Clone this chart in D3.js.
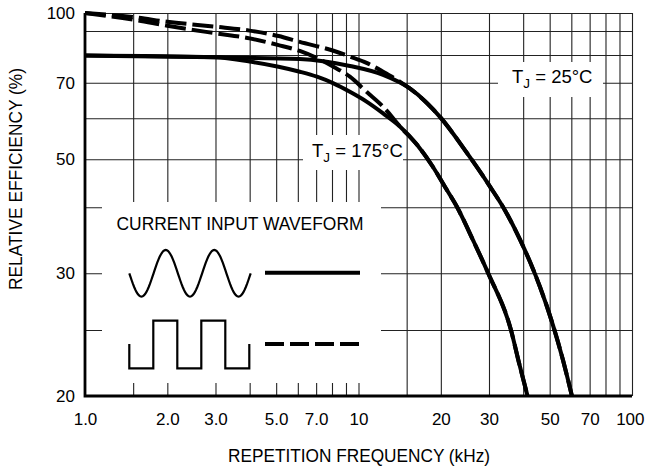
<!DOCTYPE html>
<html>
<head>
<meta charset="utf-8">
<script src="https://cdn.jsdelivr.net/npm/d3@7"></script>
<style>
  html, body { margin: 0; padding: 0; background: #fff; }
  svg { display: block; font-family: "Liberation Sans", Arial, Helvetica, sans-serif; }
</style>
</head>
<body>
<svg id="chart"></svg>
<script>
// curves: [frequency (kHz), relative efficiency (%)]
const sine25 = [[1, 79.8], [3.0, 79.1], [6.1, 78.5], [9.3, 75.9], [12.3, 72.7], [15.4, 68.3], [20.0, 60.1],
  [24.5, 52.1], [30.3, 44.0], [34.3, 39.5], [39.0, 34.7], [42.4, 31.5], [46.1, 28.7], [51.4, 25.4], [55.9, 22.6], [60.3, 20]];
const square25 = [[1, 100], [1.52, 97.5], [2.0, 95.0], [3.0, 92.3], [4.0, 90.2], [5.1, 87.8], [6.1, 85.3], [8.1, 81.7],
  [9.3, 79.4], [10.7, 77.0], [12.3, 73.8], [14.2, 70.3], [15.4, 68.3], [20.0, 60.1], [24.5, 52.1], [30.3, 44.0],
  [34.3, 39.5], [39.0, 34.7], [42.4, 31.5], [46.1, 28.7], [51.4, 25.4], [55.9, 22.6], [60.3, 20]];
const sine175 = [[1, 79.8], [3.0, 79.1], [4.0, 77.5], [5.1, 75.6], [6.1, 73.8], [7.05, 72.05], [8.1, 69.8], [9.3, 67.3],
  [10.7, 64.5], [12.3, 61.3], [14.2, 57.8], [16.4, 53.3], [18.7, 48.3], [20.7, 44.0], [22.9, 40.1], [26.2, 34.7],
  [29.8, 30.0], [36.1, 25.0], [38.6, 22.4], [41.5, 20]];
const square175 = [[1, 100], [1.52, 96.0], [2.0, 92.8], [3.0, 89.0], [4.0, 86.8], [5.1, 84.0], [6.1, 81.6], [8.1, 75.6],
  [9.3, 72.05], [10.7, 67.3], [12.3, 63.1], [14.2, 57.8], [16.4, 53.3], [18.7, 48.3], [20.7, 44.0], [22.9, 40.1],
  [26.2, 34.7], [29.8, 30.0], [36.1, 25.0], [38.6, 22.4], [41.5, 20]];

const xGrid = [1.5, 2, 3, 4, 5, 6, 7, 8, 9, 10, 15, 20, 30, 40, 50, 60, 70, 80, 90, 100];
const xLabels = [1, 2, 3, 5, 7, 10, 20, 30, 50, 70, 100];
const yGrid = [20, 25, 30, 40, 50, 60, 70, 80, 90, 100];
const yLabels = [20, 30, 50, 70, 100];

const width = 645, height = 470;
const margin = {top: 13, right: 13, bottom: 74, left: 85};
const innerW = width - margin.left - margin.right;
const innerH = height - margin.top - margin.bottom;
// the printed efficiency grid is not an even log grid, so pin the scale at every gridline
const yStops = [0, 0.1723, 0.3204, 0.4927, 0.618, 0.7251, 0.818, 0.8903, 0.953, 1];

const x = d3.scaleLog().domain([1, 100]).range([margin.left, width - margin.right]);
const y = d3.scaleLog().domain(yGrid).range(yStops.map(s => height - margin.bottom - s * innerH));

const svg = d3.select("#chart")
  .attr("width", width)
  .attr("height", height)
  .attr("viewBox", [0, 0, width, height]);

// grid
svg.append("g")
  .attr("transform", `translate(0,${height - margin.bottom})`)
  .call(d3.axisBottom(x).tickValues(xGrid).tickSize(-innerH).tickFormat(""))
  .call(g => g.select(".domain").remove())
  .call(g => g.selectAll("line").attr("stroke", "#222").attr("stroke-width", 1.1));

svg.append("g")
  .attr("transform", `translate(${margin.left},0)`)
  .call(d3.axisLeft(y).tickValues(yGrid).tickSize(-innerW).tickFormat(""))
  .call(g => g.select(".domain").remove())
  .call(g => g.selectAll("line").attr("stroke", "#222").attr("stroke-width", 1.1));

// white panels that blank the grid behind the legend and labels
const panels = [
  {x: 102, y: 202, w: 279, h: 181},
  {x: 303, y: 135, w: 100, h: 35},
  {x: 498, y: 62, w: 105, h: 35}
];
svg.append("g").selectAll("rect")
  .data(panels)
  .join("rect")
  .attr("x", d => d.x).attr("y", d => d.y)
  .attr("width", d => d.w).attr("height", d => d.h)
  .attr("fill", "#fff");

// tick labels
svg.append("g")
  .attr("transform", `translate(0,${height - margin.bottom})`)
  .call(d3.axisBottom(x).tickValues(xLabels).tickSize(0).tickPadding(17)
    .tickFormat(d => d < 10 ? d.toFixed(1) : d3.format("d")(d)))
  .call(g => g.select(".domain").remove())
  .call(g => g.selectAll("text").attr("font-size", 17).attr("font-family", null).attr("fill", "#000"))
  // last label sits against the page edge
  .call(g => g.select(".tick:last-of-type text").attr("text-anchor", "end").attr("x", 12));

svg.append("g")
  .attr("transform", `translate(${margin.left},0)`)
  .call(d3.axisLeft(y).tickValues(yLabels).tickSize(0).tickPadding(10).tickFormat(d3.format("d")))
  .call(g => g.select(".domain").remove())
  .call(g => g.selectAll("text").attr("font-size", 17).attr("font-family", null).attr("fill", "#000"));

// heavy left and bottom axis lines
svg.append("path")
  .attr("d", `M${margin.left},${margin.top}V${height - margin.bottom}H${width - margin.right}`)
  .attr("fill", "none")
  .attr("stroke", "#000")
  .attr("stroke-width", 2.8);

// axis titles
svg.append("text")
  .attr("x", 359).attr("y", 462)
  .attr("text-anchor", "middle")
  .attr("font-size", 19)
  .attr("textLength", 262).attr("lengthAdjust", "spacingAndGlyphs")
  .text("REPETITION FREQUENCY (kHz)");

svg.append("text")
  .attr("transform", "translate(22,179) rotate(-90)")
  .attr("text-anchor", "middle")
  .attr("font-size", 19)
  .attr("textLength", 222).attr("lengthAdjust", "spacingAndGlyphs")
  .text("RELATIVE EFFICIENCY (%)");

// curves
const line = d3.line()
  .x(d => x(d[0]))
  .y(d => y(d[1]))
  .curve(d3.curveMonotoneX);

const series = [
  {data: sine25, dash: null},
  {data: sine175, dash: null},
  {data: square25, dash: "21,6"},
  {data: square175, dash: "21,6"}
];
svg.append("g").selectAll("path")
  .data(series)
  .join("path")
  .attr("d", d => line(d.data))
  .attr("fill", "none")
  .attr("stroke", "#000")
  .attr("stroke-width", 4)
  .attr("stroke-dasharray", d => d.dash);

// temperature labels
const tLabels = [
  {x: 312, y: 157, t: " = 175°C"},
  {x: 512, y: 83, t: " = 25°C"}
];
const tl = svg.append("g").selectAll("text")
  .data(tLabels)
  .join("text")
  .attr("x", d => d.x).attr("y", d => d.y)
  .attr("font-size", 18.5);
tl.append("tspan").text("T");
tl.append("tspan").attr("font-size", 13.5).attr("dy", 5).text("J");
tl.append("tspan").attr("dy", -5).text(d => d.t);

// legend
const lg = svg.append("g");
lg.append("text")
  .attr("x", 240).attr("y", 230)
  .attr("text-anchor", "middle")
  .attr("font-size", 19)
  .attr("textLength", 247).attr("lengthAdjust", "spacingAndGlyphs")
  .text("CURRENT INPUT WAVEFORM");

const sx0 = 129.3, sx1 = 250.7, sy = 273.3, amp = 23.3;
const sinePts = d3.range(0, 1.0001, 0.01).map(t => [sx0 + t * (sx1 - sx0), sy + amp * Math.sin(t * 5 * Math.PI)]);
lg.append("path")
  .attr("d", d3.line()(sinePts))
  .attr("fill", "none").attr("stroke", "#000").attr("stroke-width", 2.2);

const qx0 = 129.3, half = 24, qLow = 368.3, qHigh = 320.7, qMid = 344;
const sqPts = [[qx0, qMid], [qx0, qLow]];
for (let k = 1; k <= 5; k++) {
  const xe = qx0 + k * half;
  const from = k % 2 ? qLow : qHigh;
  const to = k % 2 ? qHigh : qLow;
  sqPts.push([xe, from]);
  sqPts.push([xe, k === 5 ? qMid : to]);
}
lg.append("path")
  .attr("d", d3.line()(sqPts))
  .attr("fill", "none").attr("stroke", "#000").attr("stroke-width", 2.2);

lg.append("line")
  .attr("x1", 265).attr("x2", 360).attr("y1", 272.7).attr("y2", 272.7)
  .attr("stroke", "#000").attr("stroke-width", 4);
lg.append("line")
  .attr("x1", 265).attr("x2", 360).attr("y1", 344).attr("y2", 344)
  .attr("stroke", "#000").attr("stroke-width", 4).attr("stroke-dasharray", "19,6");
</script>
</body>
</html>
